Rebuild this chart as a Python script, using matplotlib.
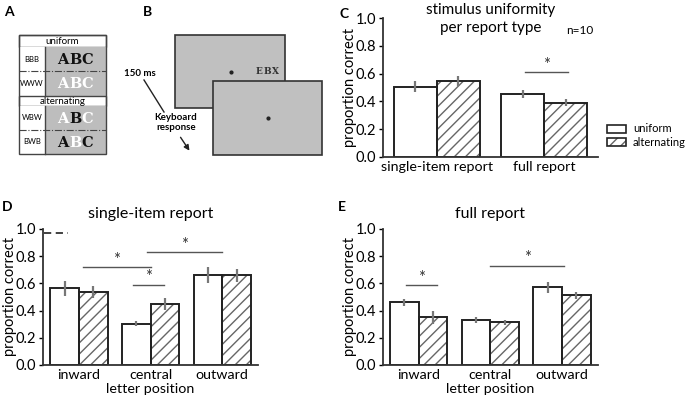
import numpy as np
import matplotlib.pyplot as plt
from matplotlib.patches import Rectangle

plt.rcParams['font.family'] = ['Lato', 'DejaVu Sans']

# ---- data ----
c_groups = ['single-item report', 'full report']
c_uniform = [0.507, 0.452]
c_uniform_err = [0.04, 0.028]
c_alternating = [0.545, 0.392]
c_alternating_err = [0.035, 0.025]

positions = ['inward', 'central', 'outward']
d_uniform = [0.565, 0.305, 0.66]
d_uniform_err = [0.055, 0.015, 0.058]
d_alternating = [0.535, 0.447, 0.66]
d_alternating_err = [0.045, 0.045, 0.048]

e_uniform = [0.46, 0.33, 0.57]
e_uniform_err = [0.025, 0.024, 0.038]
e_alternating = [0.35, 0.313, 0.513]
e_alternating_err = [0.045, 0.02, 0.027]

# significance lines: (x0, x1, y)
c_sig = [(0.82, 1.22, 0.61)]
d_sig = [(0.06, 1.0, 0.72), (0.76, 1.19, 0.59), (0.95, 2.0, 0.83)]
e_sig = [(-0.18, 0.25, 0.585), (1.0, 2.03, 0.73)]

W = 0.4
HATCH_COL = '#666666'
ERR_COL = '#777777'


def bar_panel(ax, labels, uni, uni_err, alt, alt_err, sigs):
    x = np.arange(len(labels))
    # hatch layer then outline
    ax.bar(x + W / 2, alt, W, color='white', edgecolor=HATCH_COL, hatch='///', linewidth=0)
    ax.bar(x - W / 2, uni, W, color='white', edgecolor='#222222', linewidth=1.4)
    ax.bar(x + W / 2, alt, W, color='none', edgecolor='#222222', linewidth=1.4)
    ax.errorbar(x - W / 2, uni, yerr=uni_err, fmt='none', ecolor=ERR_COL, elinewidth=1.6, capsize=0)
    ax.errorbar(x + W / 2, alt, yerr=alt_err, fmt='none', ecolor=ERR_COL, elinewidth=1.6, capsize=0)
    for x0, x1, y in sigs:
        ax.plot([x0, x1], [y, y], color='#555555', lw=1)
        ax.text((x0 + x1) / 2, y - 0.005, '*', ha='center', va='bottom', fontsize=12, color='#333333')
    ax.set_xlim(-0.5, len(labels) - 0.5)
    ax.set_ylim(0, 1.0)
    ax.set_yticks([0, 0.2, 0.4, 0.6, 0.8, 1.0])
    ax.set_yticklabels(['0.0', '0.2', '0.4', '0.6', '0.8', '1.0'])
    ax.set_xticks(x)
    ax.set_xticklabels(labels)
    ax.tick_params(axis='x', length=0, labelsize=10.3, pad=3)
    ax.tick_params(axis='y', length=3, width=1, labelsize=10.5, pad=2)
    ax.spines['top'].set_visible(False)
    ax.spines['right'].set_visible(False)
    for s in ['left', 'bottom']:
        ax.spines[s].set_linewidth(1.3)
        ax.spines[s].set_color('#333333')
    ax.set_ylabel('proportion correct', fontsize=10.5)
    ax.yaxis.set_label_coords(-0.12, 0.5)


fig = plt.figure(figsize=(6.85, 4.0), dpi=100)

axC = fig.add_axes([0.559, 0.6075, 0.314, 0.3475])
bar_panel(axC, c_groups, c_uniform, c_uniform_err, c_alternating, c_alternating_err, c_sig)

axD = fig.add_axes([0.0628, 0.0875, 0.314, 0.34])
bar_panel(axD, positions, d_uniform, d_uniform_err, d_alternating, d_alternating_err, d_sig)
axD.plot([-0.48, -0.15], [0.97, 0.97], color='#333333', lw=1.3, ls=(0, (4, 2.5)))
axD.set_xlabel('letter position', fontsize=10.3, labelpad=1)
axD.set_title('single-item report', fontsize=11.5, pad=8)

axE = fig.add_axes([0.559, 0.0875, 0.314, 0.34])
bar_panel(axE, positions, e_uniform, e_uniform_err, e_alternating, e_alternating_err, e_sig)
axE.set_xlabel('letter position', fontsize=10.3, labelpad=1)
axE.set_title('full report', fontsize=11.5, pad=8)

# overlay in pixel coordinates for illustrations and labels
ov = fig.add_axes([0, 0, 1, 1], zorder=10)
ov.set_xlim(0, 685)
ov.set_ylim(400, 0)
ov.axis('off')

# panel titles / notes
ov.text(491, 10, 'stimulus uniformity', ha='center', va='center', fontsize=11)
ov.text(491, 28, 'per report type', ha='center', va='center', fontsize=11)
ov.text(580, 30, 'n=10', ha='center', va='center', fontsize=8.5)

# legend
ov.add_patch(Rectangle((607, 125), 19, 8, facecolor='white', edgecolor='#222222', lw=1.2))
ov.add_patch(Rectangle((607, 138), 19, 8, facecolor='white', edgecolor=HATCH_COL, hatch='///', lw=0))
ov.add_patch(Rectangle((607, 138), 19, 8, facecolor='none', edgecolor='#222222', lw=1.2))
ov.text(633, 129, 'uniform', va='center', fontsize=8)
ov.text(633, 142, 'alternating', va='center', fontsize=8)

# panel letters
for lab, (px, py) in {'A': (4, 12), 'B': (143, 12), 'C': (340, 14), 'D': (2, 207), 'E': (338, 207)}.items():
    ov.text(px, py, lab, ha='left', va='center', fontsize=10, fontweight='bold')

# ---- panel A ----
GRAY = '#bdbdbd'
LINE = '#444444'
ax0, ax1, split = 19, 106, 45
rows = [(35, 47, 'uniform', None),
        (47, 71, 'BBB', 'kkk'),
        (71, 96, 'WWW', 'www'),
        (96, 106, 'alternating', None),
        (106, 130, 'WBW', 'wkw'),
        (130, 154, 'BWB', 'kwk')]
for y0, y1, txt, cols in rows:
    if cols is None:
        ov.add_patch(Rectangle((ax0, y0), ax1 - ax0, y1 - y0, facecolor='white', edgecolor=LINE, lw=1))
        ov.text((ax0 + ax1) / 2, (y0 + y1) / 2, txt, ha='center', va='center', fontsize=7)
    else:
        ov.add_patch(Rectangle((ax0, y0), split - ax0, y1 - y0, facecolor='white', edgecolor='none'))
        ov.add_patch(Rectangle((split, y0), ax1 - split, y1 - y0, facecolor=GRAY, edgecolor='none'))
        ov.text((ax0 + split) / 2, (y0 + y1) / 2, txt, ha='center', va='center', fontsize=5.5)
        cmap = {'k': '#111111', 'w': 'white'}
        for i, (ch, c) in enumerate(zip('ABC', cols)):
            ov.text(63 + i * 12, (y0 + y1) / 2 + 1, ch, ha='center', va='center', fontsize=10.5,
                    fontweight='bold', family='DejaVu Serif', color=cmap[c])
ov.add_patch(Rectangle((ax0, 35), ax1 - ax0, 154 - 35, facecolor='none', edgecolor=LINE, lw=1))
ov.plot([split, split], [47, 96], color=LINE, lw=1)
ov.plot([split, split], [106, 154], color=LINE, lw=1)
for y in (71, 130):
    ov.plot([ax0, ax1], [y, y], color=LINE, lw=0.8, ls='-.')

# ---- panel B ----
BG = '#c0c0c0'
ov.add_patch(Rectangle((175, 35), 110, 73, facecolor=BG, edgecolor='#333333', lw=1.2))
ov.plot(231, 72, 'o', color='#222222', ms=2)
for i, ch in enumerate('EBX'):
    ov.text(259 + i * 8, 72, ch, ha='center', va='center', fontsize=6.5, family='DejaVu Serif',
            fontweight='bold', color='#333333')
ov.add_patch(Rectangle((213, 81), 109, 74, facecolor=BG, edgecolor='#333333', lw=1.2))
ov.plot(268, 118, 'o', color='#222222', ms=2)
ov.text(140, 73, '150 ms', ha='center', va='center', fontsize=7, fontweight='bold')
ov.plot([144, 164], [80, 112], color='#222222', lw=1)
ov.text(176, 117, 'Keyboard', ha='center', va='center', fontsize=7, fontweight='bold')
ov.text(176, 127, 'response', ha='center', va='center', fontsize=7, fontweight='bold')
ov.annotate('', xy=(191, 153), xytext=(179, 135),
            arrowprops=dict(arrowstyle='-|>', color='#222222', lw=1, mutation_scale=8))

plt.savefig('out.png', dpi=100)
